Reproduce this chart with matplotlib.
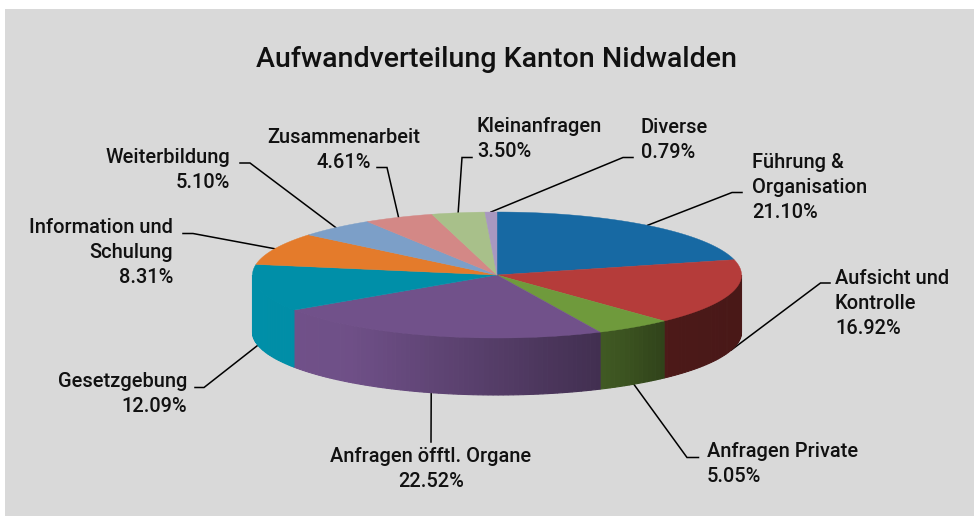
import numpy as np
import matplotlib
matplotlib.use("Agg")
import matplotlib.pyplot as plt

# Datos
kategorien = ["Führung &\nOrganisation", "Aufsicht und\nKontrolle", "Anfragen Private",
              "Anfragen öfftl. Organe", "Gesetzgebung", "Information und\nSchulung",
              "Weiterbildung", "Zusammenarbeit", "Kleinanfragen", "Diverse"]
werte = [21.10, 16.92, 5.05, 22.52, 12.09, 8.31, 5.10, 4.61, 3.50, 0.79]
farben = ["#1769A3", "#B53C3A", "#6F9A3C", "#71518A", "#008FA8",
          "#E47B2B", "#7C9FC8", "#D38886", "#A8C08A", "#A898C0"]

# Geometrie der Torte (Pixel)
cx, cy, rx, ry, tiefe = 497, 275, 244.5, 63, 57

# Beschriftung: x, Grundlinie erste Zeile, Ausrichtung
label_pos = [(752, 168, "left"), (835, 284, "left"), (707, 457, "left"),
             (431, 462, "center"), (187, 387, "right"), (173, 233, "right"),
             (230, 163, "right"), (343.5, 143, "center"), (477, 132, "left"), (640.5, 133, "left")]
# Fuehrungslinien: Punkte vom Text bis zum Knick
linien = [[(742, 192.5), (732, 192.5)], [(830, 283), (820.5, 283)], [(698.5, 457.5), (687, 457.5)],
          [(431, 442)], [(195, 387.5), (204, 387.5)], [(183, 233.5), (193, 233.5)],
          [(240, 163), (250, 163)], [(377, 167.5), (387, 167.5)], [(472, 157.5), (462, 157.5)],
          [(633, 157.5), (623, 157.5)]]

fig = plt.figure(figsize=(9.74, 5.16), dpi=100, facecolor="white")
ax = fig.add_axes([0, 0, 1, 1])
ax.set_xlim(0, 974)
ax.set_ylim(516, 0)
ax.axis("off")
ax.add_patch(plt.Rectangle((5, 9), 969, 507, facecolor="#D9D9D9", edgecolor="none", zorder=0))

plt.rcParams["font.family"] = ["Roboto", "DejaVu Sans"]
gesamt = sum(werte)


def punkt(theta):
    return cx + rx * np.sin(theta), cy - ry * np.cos(theta)


def schatten(x):
    return np.interp(x, [-1, -0.6, 0.5, 0.7, 1], [1, 0.98, 0.55, 0.42, 0.4])


start = 0
for i in range(len(werte)):
    t0 = start / gesamt * 2 * np.pi
    t1 = (start + werte[i]) / gesamt * 2 * np.pi
    rgb = np.array(matplotlib.colors.to_rgb(farben[i]))

    # Seitenwand nur vorne
    w0, w1 = max(t0, np.pi / 2), min(t1, 3 * np.pi / 2)
    if w1 > w0:
        kanten = np.linspace(w0, w1, max(2, int((w1 - w0) / 0.02)))
        for a, b in zip(kanten[:-1], kanten[1:]):
            xa, ya = punkt(a)
            xb, yb = punkt(b)
            c = rgb * schatten(np.sin((a + b) / 2))
            ax.fill([xa, xb, xb, xa], [ya, yb, yb + tiefe, ya + tiefe],
                    facecolor=c, edgecolor=c, lw=0.8, zorder=2)

    # Deckel
    th = np.linspace(t0, t1, 80)
    xs, ys = punkt(th)
    ax.fill(np.r_[cx, xs], np.r_[cy, ys], color=farben[i], lw=0.3, zorder=3)

    # Linie
    mitte = (t0 + t1) / 2
    px, py = punkt(mitte)
    if np.cos(mitte) < 0:
        py += tiefe
    lx = [p[0] for p in linien[i]] + [px]
    ly = [p[1] for p in linien[i]] + [py]
    ax.plot(lx, ly, color="black", lw=1.1, zorder=1, solid_joinstyle="miter")

    # Text, jede Zeile einzeln
    x, y, ha = label_pos[i]
    zeilen = kategorien[i].split("\n") + [f"{werte[i]:.2f}%"]
    for k in range(len(zeilen)):
        ax.text(x, y + 25 * k, zeilen[k], ha=ha, va="baseline", fontsize=14.4,
                fontweight="medium", color="#111111", zorder=5)
    start += werte[i]

ax.text(497, 67, "Aufwandverteilung Kanton Nidwalden", ha="center", va="baseline",
        fontsize=20.5, fontweight="medium", color="#111111")

fig.savefig("out.png", dpi=100)
